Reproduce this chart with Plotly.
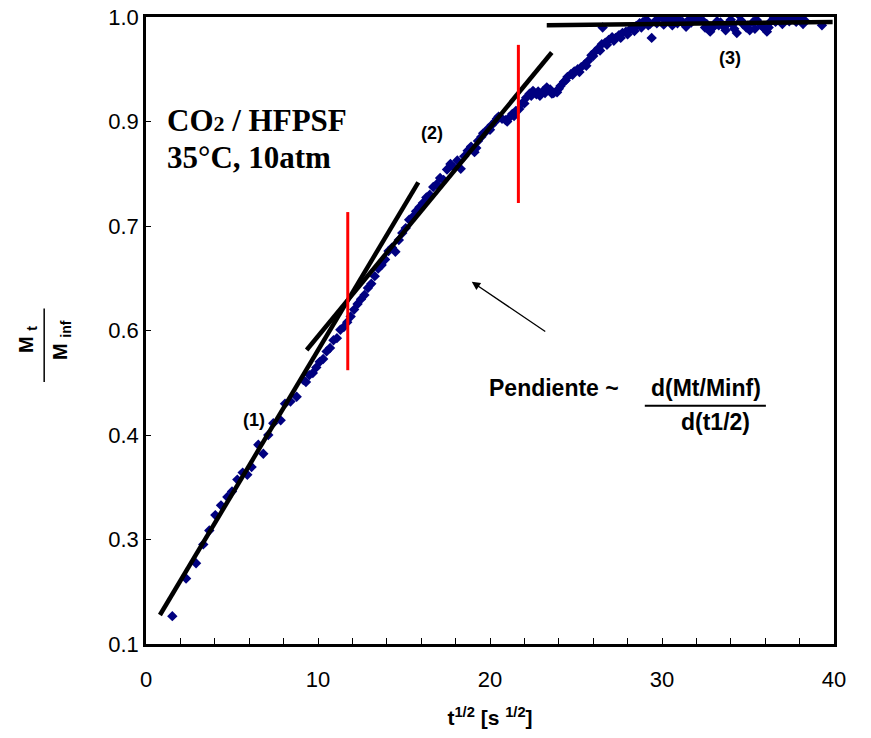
import plotly.graph_objects as go

# ---------------- data ----------------
t_sqrt = [1.53, 2.33, 2.91, 3.33, 3.68, 4.03, 4.36, 4.73, 5.0, 5.31, 5.62, 5.89, 6.14, 6.53,
          6.82, 7.11, 7.40, 7.83, 8.08, 8.40, 8.76, 9.15,
          9.3, 9.5, 9.7, 9.9, 10.1, 10.3, 10.5, 10.7, 10.9, 11.1, 11.3, 11.5, 11.7, 11.9,
          12.1, 12.3, 12.5, 12.7, 12.9, 13.1, 13.3, 13.5, 13.7, 13.9, 14.1, 14.3, 14.5, 14.7,
          14.9, 15.1, 15.3, 15.5, 15.7, 15.9, 16.1, 16.3, 16.5, 16.7, 16.9, 17.1, 17.3, 17.5,
          17.7, 17.9, 18.1, 18.3, 18.5, 18.7, 18.9, 19.1, 19.3, 19.5, 19.7, 19.9, 20.1, 20.3,
          20.5, 20.7, 20.9, 21.1, 21.3, 21.5, 21.7, 21.9, 22.1, 22.3, 22.5, 22.7, 22.9, 23.1,
          23.3, 23.5, 23.7, 23.9, 24.1, 24.3, 24.5, 24.7, 24.9, 25.1, 25.3, 25.5, 25.7, 25.9,
          26.1, 26.3, 26.5, 26.55, 26.7, 26.9, 27.1, 27.3, 27.5, 27.7, 27.9, 28.1, 28.3, 28.5,
          28.7, 28.9, 29.1, 29.3, 29.4, 29.6, 29.8, 30.0, 30.2, 30.4, 30.6, 30.8, 31.0, 31.2,
          31.4, 31.6, 31.8, 32.0, 32.2, 32.4, 32.6, 32.8, 33.0, 33.2, 33.4, 33.6, 33.8, 34.0,
          34.2, 34.35, 34.5, 34.7, 34.9, 35.1, 35.3, 35.5, 35.7, 35.9, 36.1, 36.3, 36.5, 36.7,
          36.9, 37.1, 37.3, 37.5, 37.7, 37.9, 38.1, 38.3, 39.3,
          19.2, 19.6, 20.0, 20.4, 21.0, 21.4, 22.0, 22.4, 22.8, 23.2, 23.6, 24.0, 24.4, 24.8,
          25.2, 25.6, 26.0, 26.4, 26.8, 27.2, 27.6, 28.0, 28.4, 28.8, 29.2, 29.7, 30.1, 30.5,
          30.9, 31.3, 31.7, 32.1, 32.5, 32.9, 33.3, 33.7, 34.1, 34.6, 35.0, 35.4, 35.8, 36.2,
          36.6, 37.0, 37.4, 37.8, 38.2]
mt_minf = [0.140, 0.194, 0.216, 0.243, 0.263, 0.285, 0.299, 0.311, 0.319, 0.336, 0.346, 0.343,
           0.354, 0.386, 0.373, 0.400, 0.417, 0.421, 0.445, 0.448, 0.455, 0.479,
           0.476, 0.486, 0.489, 0.497, 0.505, 0.509, 0.520, 0.525, 0.536, 0.539, 0.551, 0.555,
           0.562, 0.570, 0.580, 0.588, 0.595, 0.601, 0.611, 0.617, 0.628, 0.639, 0.644, 0.652,
           0.664, 0.669, 0.663, 0.680, 0.690, 0.697, 0.709, 0.713, 0.721, 0.727, 0.733, 0.741,
           0.745, 0.756, 0.760, 0.769, 0.766, 0.781, 0.789, 0.784, 0.794, 0.782, 0.800, 0.808,
           0.814, 0.806, 0.822, 0.828, 0.834, 0.840, 0.845, 0.850, 0.857, 0.854, 0.852, 0.855,
           0.861, 0.865, 0.868, 0.877, 0.884, 0.890, 0.894, 0.889, 0.887, 0.894, 0.899, 0.896,
           0.891, 0.892, 0.901, 0.907, 0.914, 0.918, 0.922, 0.925, 0.928, 0.932, 0.937, 0.945,
           0.950, 0.955, 0.961, 0.985, 0.963, 0.967, 0.971, 0.970, 0.974, 0.977, 0.979, 0.981,
           0.984, 0.987, 0.991, 0.993, 0.996, 0.990, 0.970, 0.994, 0.998, 1.000, 0.995, 0.998,
           0.988, 0.999, 0.996, 0.993, 0.986, 0.997, 1.000, 0.998, 1.003, 0.994, 0.990, 0.979,
           0.986, 0.994, 0.992, 0.986, 0.990, 0.996, 0.983, 0.977, 1.002, 0.990, 0.985, 0.981,
           0.993, 0.996, 0.990, 0.985, 0.979, 0.993, 1.000, 0.997, 0.995, 0.998, 1.000, 0.997,
           0.999, 1.000, 0.996, 0.995, 0.988,
           0.812, 0.833, 0.838, 0.854, 0.850, 0.858, 0.876, 0.887, 0.893, 0.891, 0.890, 0.897,
           0.909, 0.917, 0.921, 0.930, 0.944, 0.952, 0.960, 0.966, 0.970, 0.975, 0.980, 0.985,
           0.988, 0.991, 0.989, 0.993, 0.991, 0.990, 0.992, 0.996, 0.985, 0.984, 0.988, 0.981,
           0.989, 0.995, 0.988, 0.983, 0.987, 0.985, 0.993, 0.990, 0.994, 0.993, 0.990]

# fitted straight segments (1), (2), (3)
fit1_x = [0.81, 15.83]
fit1_y = [0.1416, 0.7627]
fit2_x = [9.34, 23.59]
fit2_y = [0.522, 0.949]
fit3_x = [23.3, 39.92]
fit3_y = [0.988, 0.993]

# red separators
red1_x = [11.73, 11.73]
red1_y = [0.493, 0.720]
red2_x = [21.65, 21.65]
red2_y = [0.733, 0.960]

# y tick positions and the labels printed on them
y_tickvals = [0.1, 0.25, 0.4, 0.55, 0.7, 0.85, 1.0]
y_ticktext = ["0.1", "0.3", "0.4", "0.6", "0.7", "0.9", "1.0"]
x_tickvals = [0, 10, 20, 30, 40]

# ---------------- figure ----------------
fig = go.Figure()

fig.add_trace(go.Scatter(x=t_sqrt, y=mt_minf, mode="markers",
                         marker=dict(symbol="diamond", size=8, color="#000080",
                                     line=dict(width=0)),
                         showlegend=False))

for fx, fy in [(fit1_x, fit1_y), (fit2_x, fit2_y), (fit3_x, fit3_y)]:
    fig.add_trace(go.Scatter(x=fx, y=fy, mode="lines",
                             line=dict(color="black", width=4.5),
                             showlegend=False))

for rx, ry in [(red1_x, red1_y), (red2_x, red2_y)]:
    fig.add_trace(go.Scatter(x=rx, y=ry, mode="lines",
                             line=dict(color="#FF0000", width=3),
                             showlegend=False))

arial = "Arial, Liberation Sans, sans-serif"
times = "Times New Roman, Liberation Serif, serif"

annotations = [
    dict(x=1.1, y=0.851, xref="x", yref="y", xanchor="left", yanchor="middle",
         text="<b>CO<span style='font-size:22px'>2</span> / HFPSF</b>", showarrow=False,
         font=dict(family=times, size=31, color="black")),
    dict(x=1.1, y=0.799, xref="x", yref="y", xanchor="left", yanchor="middle",
         text="<b>35°C, 10atm</b>", showarrow=False,
         font=dict(family=times, size=31, color="black")),
    dict(x=6.28, y=0.422, xref="x", yref="y", text="<b>(1)</b>", showarrow=False,
         font=dict(family=arial, size=18, color="black")),
    dict(x=16.63, y=0.833, xref="x", yref="y", text="<b>(2)</b>", showarrow=False,
         font=dict(family=arial, size=18, color="black")),
    dict(x=33.95, y=0.941, xref="x", yref="y", text="<b>(3)</b>", showarrow=False,
         font=dict(family=arial, size=18, color="black")),
    # arrow
    dict(x=18.94, y=0.620, ax=23.3, ay=0.547, xref="x", yref="y", axref="x", ayref="y",
         text="", showarrow=True, arrowhead=2, arrowsize=1.3, arrowwidth=1.3,
         arrowcolor="black"),
    # slope text
    dict(x=0.593, y=0.408, xref="paper", yref="paper", xanchor="center", yanchor="middle",
         text="<b>Pendiente ~</b>", showarrow=False,
         font=dict(family=arial, size=23, color="black")),
    dict(x=0.814, y=0.408, xref="paper", yref="paper", xanchor="center", yanchor="middle",
         text="<b>d(Mt/Minf)</b>", showarrow=False,
         font=dict(family=arial, size=23, color="black")),
    dict(x=0.828, y=0.3545, xref="paper", yref="paper", xanchor="center", yanchor="middle",
         text="<b>d(t1/2)</b>", showarrow=False,
         font=dict(family=arial, size=23, color="black")),
    # y title as a fraction
    dict(x=0, y=0.485, xref="paper", yref="paper", xshift=-118, xanchor="center",
         yanchor="middle", text="<b>M <sub>t</sub></b>", textangle=-90, showarrow=False,
         font=dict(family=arial, size=20, color="black")),
    dict(x=0, y=0.485, xref="paper", yref="paper", xshift=-84, xanchor="center",
         yanchor="middle", text="<b>M <sub>inf</sub></b>", textangle=-90, showarrow=False,
         font=dict(family=arial, size=20, color="black")),
]

shapes = [
    # fraction bar of the y title
    dict(type="line", xref="paper", yref="paper", x0=-0.148, x1=-0.148, y0=0.418, y1=0.535,
         line=dict(color="black", width=1.5)),
    # fraction bar of slope text
    dict(type="line", xref="paper", yref="paper", x0=0.725, x1=0.901, y0=0.380, y1=0.380,
         line=dict(color="black", width=2)),
]

fig.update_layout(
    width=871, height=738,
    margin=dict(l=146, r=37, t=17, b=94),
    paper_bgcolor="white", plot_bgcolor="white",
    font=dict(family=arial, size=22, color="black"),
    annotations=annotations,
    shapes=shapes,
    showlegend=False,
)

fig.update_xaxes(range=[0, 40], tickvals=x_tickvals, ticks="inside", ticklen=6,
                 tickwidth=1, tickcolor="black", automargin=False,
                 minor=dict(dtick=2, ticks="inside", ticklen=6, tickcolor="black", tickwidth=1),
                 showline=True, linewidth=2.5, linecolor="black", mirror=True,
                 showgrid=False, zeroline=False, ticklabelstandoff=14,
                 ticklabeloverflow="allow",
                 title=dict(text="<b>t<sup>1/2</sup> [s <sup>1/2</sup>]</b>",
                            font=dict(family=arial, size=21), standoff=20),
                 tickfont=dict(family=arial, size=22))
fig.update_yaxes(range=[0.1, 1.0], tickvals=y_tickvals, ticktext=y_ticktext,
                 ticks="inside", ticklen=5, tickwidth=1, tickcolor="black", automargin=False,
                 showline=True, linewidth=2.5, linecolor="black", mirror=True,
                 showgrid=False, zeroline=False, ticklabeloverflow="allow",
                 tickfont=dict(family=arial, size=22))

fig.write_html("out.html",
               config={"displayModeBar": False},
               post_script="document.body.style.margin='0';document.body.style.padding='0';")
